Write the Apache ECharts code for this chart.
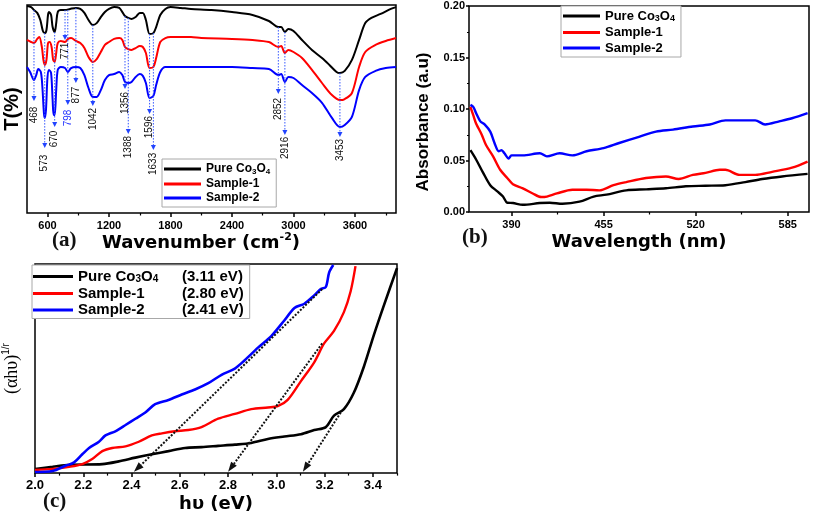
<!DOCTYPE html>
<html><head><meta charset="utf-8">
<script src="https://cdn.jsdelivr.net/npm/echarts@6/dist/echarts.min.js"></script>
<style>html,body{margin:0;padding:0;background:#fff}#c{width:813px;height:516px}</style>
</head><body><div id="c"></div>
<script>
// ================= DATA =================
const seriesNames = ['Pure Co3O4', 'Sample-1', 'Sample-2'];
const bandGaps = ['(3.11 eV)', '(2.80 eV)', '(2.41 eV)'];

// ---- Panel (a): FTIR, wavenumber (cm-1) vs T (%) (curves offset) ----
const ftirBlackWn = [400,440,468,500,530,555,573,590,605,615,635,650,670,685,700,730,771,820,877,920,960,1000,1042,1080,1120,1160,1200,1250,1300,1330,1356,1388,1420,1460,1500,1530,1560,1596,1633,1660,1700,1750,1800,1900,2000,2200,2400,2600,2760,2852,2880,2916,2950,3000,3083,3180,3278,3350,3420,3453,3500,3570,3640,3700,3760,3850,3950,4000];
const ftirBlackT  = [99.5,99.0,97.6,96.2,92.8,87.5,86.5,88.0,95.2,96.6,95.2,89.4,87.0,91.3,96.6,97.6,97.6,98.1,98.6,98.1,96.2,92.8,90.4,91.3,94.2,96.6,98.1,99.0,98.6,96.6,94.7,93.8,93.3,94.2,96.2,96.2,92.8,86.1,86.5,89.4,95.2,98.1,99.0,98.6,98.1,97.6,96.6,95.2,92.3,89.4,89.4,87.0,88.5,87.5,83.2,78.4,74.5,71.2,67.8,67.3,68.3,73.6,83.2,91.3,93.8,95.7,98.1,99.0];
const ftirRedWn = [400,440,468,500,520,545,560,573,590,605,620,640,655,670,685,700,730,771,800,830,877,920,960,1000,1042,1080,1120,1160,1200,1250,1300,1330,1356,1388,1420,1460,1500,1530,1560,1596,1633,1660,1700,1750,1800,2000,2100,2400,2600,2760,2852,2880,2916,2950,3000,3083,3180,3278,3375,3453,3500,3570,3640,3700,3800,3900,4000];
const ftirRedT  = [83.2,82.2,81.7,83.7,84.6,79.8,73.6,71.2,73.6,81.7,82.2,79.8,73.6,72.6,76.9,81.7,82.7,82.2,83.7,84.1,82.7,81.7,79.3,75.0,72.6,74.0,77.4,80.8,82.2,83.7,84.1,83.2,79.8,78.8,78.4,79.3,80.3,79.8,76.9,69.7,70.2,74.5,82.2,84.1,84.6,84.6,84.1,83.7,83.2,82.2,79.8,80.3,76.9,78.4,77.4,74.5,68.8,62.5,56.7,54.3,54.8,57.7,70.2,77.4,80.8,82.7,84.1];
const ftirBlueWn = [400,430,468,490,510,535,550,565,573,585,600,615,635,650,660,670,685,700,730,771,798,830,877,920,960,1000,1042,1080,1120,1160,1200,1250,1300,1330,1356,1388,1420,1460,1500,1530,1560,1596,1633,1660,1700,1750,1800,2000,2400,2600,2760,2852,2880,2916,2950,3000,3083,3180,3278,3375,3453,3500,3570,3640,3700,3800,3900,4000];
const ftirBlueT  = [70.2,67.8,63.9,66.3,69.2,67.8,60.6,48.1,45.7,49.5,65.4,68.8,67.3,54.3,47.1,47.1,59.1,68.8,70.2,69.7,67.8,69.7,70.2,69.7,66.3,60.1,55.8,55.8,59.1,63.9,66.3,66.8,67.8,66.3,63.0,62.5,63.0,65.4,66.8,65.9,62.5,55.3,56.3,61.5,67.8,70.2,70.2,70.2,70.2,69.7,69.2,66.3,66.8,63.0,65.4,64.9,61.5,57.7,53.0,45.7,41.3,42.3,46.2,59.1,65.4,68.3,69.7,70.2];
const ftirTickLabels = [600,1200,1800,2400,3000,3600];
const ftirMinorTicks = [900,1500,2100,2700,3300,3900];

// Peak annotations (labels, wavenumber position, arrow start / tip / label centre in T units)
const peakLabels  = ['468','573','670','771','798','877','1042','1356','1388','1596','1633','2852','2916','3453'];
const peakPos     = [468,573,670,771,798,877,1042,1356,1388,1596,1633,2852,2916,3453];
const peakStart   = [97.6,86.5,87.0,97.6,97.6,98.6,90.4,94.7,93.8,86.1,86.5,89.4,87.0,67.3];
const peakTip     = [53.8,31.3,41.3,83.2,51.9,62.5,51.4,59.6,38.0,47.6,30.3,57.2,37.5,36.5];
const peakLabelAt = [47.1,24.0,35.6,77.9,45.7,56.7,45.2,52.9,31.7,41.3,23.6,50.0,31.3,30.3];
const peakColors  = ['#111','#111','#111','#111','#2233ff','#111','#111','#111','#111','#111','#111','#111','#111','#111'];

// ---- Panel (b): UV-Vis absorbance ----
const uvBlackNm  = [361,365,370,375,380,384,387,391,398,410,417,426,438,448,457,471,485,499,513,527,541,555,567,581,599];
const uvBlackAbs = [0.060,0.051,0.038,0.026,0.020,0.015,0.009,0.0087,0.007,0.0087,0.009,0.008,0.010,0.015,0.0168,0.021,0.022,0.023,0.025,0.0255,0.026,0.029,0.032,0.0345,0.037];
const uvRedNm  = [361,363,365,369,372,377,382,387,391,398,405,411,415,422,433,443,452,462,471,485,499,508,518,527,537,541,551,562,574,588,599];
const uvRedAbs = [0.102,0.094,0.086,0.075,0.065,0.054,0.041,0.033,0.027,0.023,0.018,0.0145,0.015,0.018,0.0216,0.0216,0.021,0.026,0.029,0.033,0.0345,0.032,0.036,0.038,0.041,0.041,0.036,0.036,0.039,0.043,0.049];
const uvBlueNm  = [361,363,365,368,371,375,378,381,383,385,388,390,398,410,415,424,433,443,455,466,480,492,504,518,530,541,551,562,569,579,588,599];
const uvBlueAbs = [0.104,0.102,0.096,0.088,0.085,0.078,0.067,0.059,0.060,0.057,0.052,0.055,0.055,0.057,0.054,0.057,0.055,0.059,0.062,0.067,0.073,0.078,0.080,0.083,0.085,0.089,0.089,0.089,0.085,0.088,0.091,0.096];
const uvTickLabels = [390,455,520,585];
const uvMinorTicks = [422.5,487.5,552.5];

// ---- Panel (c): Tauc plot ----
const taucBlackE = [2.0,2.073,2.141,2.279,2.347,2.416,2.484,2.553,2.622,2.69,2.759,2.828,2.896,2.965,3.033,3.102,3.157,3.205,3.239,3.28,3.321,3.363,3.404,3.445,3.5];
const taucBlackV = [2,3,4,4.3,5.6,7.4,9,10.5,12,12.4,13,13.6,14.4,16.3,17.5,18.6,20.6,22,27.5,30.6,38.4,51,66,80,98];
const taucRedE = [2.0,2.073,2.141,2.196,2.237,2.279,2.32,2.375,2.43,2.484,2.526,2.58,2.635,2.69,2.759,2.828,2.896,2.965,3.006,3.047,3.102,3.157,3.198,3.239,3.28,3.308,3.328];
const taucRedV = [1.5,2,3,4.3,6.7,10.5,12,12.8,15,18,19,20,20.6,22,26,28.3,30.6,31.4,32,35,44,53,62,68,77,87,99];
const taucBlueE = [2.0,2.073,2.128,2.162,2.196,2.224,2.265,2.292,2.333,2.375,2.416,2.457,2.498,2.553,2.608,2.663,2.718,2.773,2.828,2.869,2.924,2.979,3.033,3.075,3.116,3.157,3.184,3.205,3.219,3.236];
const taucBlueV = [0.5,1,3.6,5.1,9,12,15,18,20,23,26,29,33,35,37.6,40,43,47,50,54,60,65.5,73,79,81,85,88,89,96,99.5];
const taucTickLabels = [2.0,2.2,2.4,2.6,2.8,3.0,3.2,3.4];
const taucMinorTicks = [2.1,2.3,2.5,2.7,2.9,3.1,3.3,3.5];
// Linear-extrapolation arrows (start -> tip at band gap)
const fitStartX = [3.19, 3.19, 3.267];
const fitStartY = [88, 62, 29];
const fitEndX   = [2.41, 2.80, 3.11];
const fitEndY   = [0.6, 0.6, 0.6];

// ================= CHART =================
const colors = ['#000000', '#ff0000', '#0000ff'];
const zip = (a, b) => a.map((v, i) => [v, b[i]]);
const SANS = '"Liberation Sans", Arial, sans-serif';
const DJ = '"DejaVu Sans", sans-serif';

const mctx = document.createElement('canvas').getContext('2d');
function tw(t, size) { mctx.font = 'bold ' + size + 'px ' + SANS; return mctx.measureText(t).width; }

function coRich(n) {
  return n === 'Pure Co3O4' ? '{t|Pure Co}{s|3}{t|O}{s|4}' : '{t|' + n + '}';
}
function legendRich(size, lh, sub) {
  return {
    t: {fontFamily: SANS, fontWeight: 'bold', fontSize: size, lineHeight: lh, color: '#000'},
    s: {fontFamily: SANS, fontWeight: 'bold', fontSize: sub, lineHeight: sub, verticalAlign: 'bottom', color: '#000'}
  };
}
const cNameW = seriesNames.map(n => n === 'Pure Co3O4' ? tw('Pure Co', 15) + tw('O', 15) + 2 * tw('3', 10) : tw(n, 15));
const cRich = legendRich(15, 16, 10);
cNameW.forEach((w, i) => { cRich['g' + i] = {width: Math.max(2, 104 - w), fontSize: 15, lineHeight: 16}; });
cRich.e = {fontFamily: SANS, fontWeight: 'bold', fontSize: 15, lineHeight: 16, color: '#000'};

const tickLbl = (size) => ({fontFamily: SANS, fontWeight: 'bold', fontSize: size, color: '#000'});
const border = {show: true, borderColor: '#000', borderWidth: 1.5, backgroundColor: 'transparent'};

function lineSeries(name, data, xi, yi, color, w) {
  return {name, type: 'line', xAxisIndex: xi, yAxisIndex: yi, data, symbol: 'none', smooth: 0.3,
    lineStyle: {color, width: w}, itemStyle: {color}, z: 3};
}

function renderPeak(params, api) {
  const i = params.dataIndex;
  const p0 = api.coord([peakPos[i], peakStart[i]]);
  const p1 = api.coord([peakPos[i], peakTip[i]]);
  const pl = api.coord([peakPos[i], peakLabelAt[i]]);
  const x = p0[0];
  return {type: 'group', children: [
    {type: 'line', shape: {x1: x, y1: p0[1], x2: x, y2: p1[1] - 4}, style: {stroke: '#3355ff', lineWidth: 1, lineDash: [1.5, 1.5]}},
    {type: 'polygon', shape: {points: [[x - 2.5, p1[1] - 5], [x + 2.5, p1[1] - 5], [x, p1[1]]]}, style: {fill: '#2244ff'}},
    {type: 'text', x: x, y: pl[1], rotation: Math.PI / 2,
      style: {text: peakLabels[i], fill: peakColors[i], font: '10px ' + SANS, align: 'center', verticalAlign: 'middle'}}
  ]};
}

function renderFit(params, api) {
  const i = params.dataIndex;
  const p1 = api.coord([fitStartX[i], fitStartY[i]]);
  const p2 = api.coord([fitEndX[i], fitEndY[i]]);
  const dx = p2[0] - p1[0], dy = p2[1] - p1[1], L = Math.hypot(dx, dy);
  const ux = dx / L, uy = dy / L, al = 10, aw = 7;
  const bx = p2[0] - ux * al, by = p2[1] - uy * al;
  return {type: 'group', children: [
    {type: 'line', shape: {x1: p1[0], y1: p1[1], x2: bx, y2: by}, style: {stroke: '#111', lineWidth: 2, lineDash: [2, 1.6]}},
    {type: 'polygon', shape: {points: [[p2[0], p2[1]], [bx - uy * aw / 2, by + ux * aw / 2], [bx + uy * aw / 2, by - ux * aw / 2]]}, style: {fill: '#111'}}
  ]};
}

const hidden = {axisLine: {show: false}, axisTick: {show: false}, axisLabel: {show: false}, splitLine: {show: false}};
const plain = v => String(v);

const option = {
  animation: false,
  backgroundColor: '#fff',
  grid: [
    Object.assign({left: 25, top: 5, width: 371, height: 208}, border),
    Object.assign({left: 469, top: 6, width: 340, height: 206}, border),
    Object.assign({left: 32, top: 264, width: 365, height: 215}, border)
  ],
  xAxis: [
    {gridIndex: 0, type: 'value', min: 400, max: 4000, position: 'bottom',
      axisLine: {show: false}, splitLine: {show: false},
      axisTick: {show: true, customValues: ftirTickLabels, length: 4, lineStyle: {color: '#000', width: 1.5}},
      axisLabel: Object.assign({customValues: ftirTickLabels, margin: 7, formatter: plain}, tickLbl(11)),
      name: 'Wavenumber (cm{sup|-2})', nameLocation: 'middle', nameGap: 16,
      nameTextStyle: {fontFamily: DJ, fontWeight: 'bold', fontSize: 18, lineHeight: 22, color: '#000', padding: [0, 21, 0, 0],
        rich: {sup: {fontFamily: DJ, fontWeight: 'bold', fontSize: 11, lineHeight: 11, verticalAlign: 'top', color: '#000'}}}},
    {gridIndex: 0, type: 'value', min: 400, max: 4000, position: 'bottom', offset: 0,
      axisLine: {show: false}, splitLine: {show: false}, axisLabel: {show: false},
      axisTick: {show: true, customValues: ftirMinorTicks, length: 2.5, lineStyle: {color: '#000', width: 1.2}}},
    {gridIndex: 1, type: 'value', min: 360, max: 600, position: 'bottom',
      axisLine: {show: false}, splitLine: {show: false},
      axisTick: {show: true, customValues: uvTickLabels, length: 4, lineStyle: {color: '#000', width: 1.5}},
      axisLabel: Object.assign({customValues: uvTickLabels, margin: 7, formatter: plain}, tickLbl(11)),
      name: 'Wavelength (nm)', nameLocation: 'middle', nameGap: 17,
      nameTextStyle: {fontFamily: DJ, fontWeight: 'bold', fontSize: 18, lineHeight: 22, color: '#000'}},
    {gridIndex: 1, type: 'value', min: 360, max: 600, position: 'bottom', offset: 0,
      axisLine: {show: false}, splitLine: {show: false}, axisLabel: {show: false},
      axisTick: {show: true, customValues: uvMinorTicks, length: 2.5, lineStyle: {color: '#000', width: 1.2}}},
    {gridIndex: 2, type: 'value', min: 2.0, max: 3.5, position: 'bottom',
      axisLine: {show: false}, splitLine: {show: false},
      axisTick: {show: true, customValues: taucTickLabels, length: 4, lineStyle: {color: '#000', width: 1.5}},
      axisLabel: Object.assign({customValues: taucTickLabels, margin: 6, formatter: v => v.toFixed(1)}, tickLbl(13)),
      name: 'h\u03c5 (eV)', nameLocation: 'middle', nameGap: 14,
      nameTextStyle: {fontFamily: DJ, fontWeight: 'bold', fontSize: 18, lineHeight: 22, color: '#000'}},
    {gridIndex: 2, type: 'value', min: 2.0, max: 3.5, position: 'bottom', offset: 0,
      axisLine: {show: false}, splitLine: {show: false}, axisLabel: {show: false},
      axisTick: {show: true, customValues: taucMinorTicks, length: 2.5, lineStyle: {color: '#000', width: 1.2}}}
  ],
  yAxis: [
    Object.assign({gridIndex: 0, type: 'value', min: 0, max: 100,
      name: 'T(%)', nameLocation: 'middle', nameGap: 4,
      nameTextStyle: {fontFamily: SANS, fontWeight: 'bold', fontSize: 20, lineHeight: 22, color: '#000'}}, hidden),
    {gridIndex: 1, type: 'value', min: 0, max: 0.2, interval: 0.05,
      axisLine: {show: false}, splitLine: {show: false},
      axisTick: {show: true, length: 3, lineStyle: {color: '#000', width: 1.5}},
      minorTick: {show: true, splitNumber: 2, length: 2, lineStyle: {color: '#000', width: 1.2}},
      axisLabel: Object.assign({margin: 4, formatter: v => v.toFixed(2)}, tickLbl(11)),
      name: 'Absorbance (a.u)', nameLocation: 'middle', nameGap: 36,
      nameTextStyle: {fontFamily: SANS, fontWeight: 'bold', fontSize: 17, lineHeight: 19, color: '#000', padding: [0, 26, 0, 0]}},
    Object.assign({gridIndex: 2, type: 'value', min: 0, max: 100,
      name: '{p|(\u03b1h\u03c5)}{sup|1/r}', nameLocation: 'middle', nameGap: 12,
      nameTextStyle: {color: '#000', rich: {
        p: {fontFamily: '"Liberation Serif", serif', fontSize: 18, lineHeight: 22, color: '#000'},
        sup: {fontFamily: SANS, fontSize: 10, lineHeight: 10, verticalAlign: 'top', color: '#000'}}}}, hidden)
  ],
  legend: [
    {left: 162, top: 159, orient: 'vertical', data: seriesNames, icon: 'rect', itemWidth: 37, itemHeight: 3,
      itemGap: 2, padding: [4, 6, 3, 2], borderColor: '#a8a8a8', borderWidth: 1, backgroundColor: '#fff',
      selectedMode: false, formatter: coRich, textStyle: {rich: legendRich(12, 14, 8)}},
    {left: 561, top: 6, orient: 'vertical', data: seriesNames, icon: 'rect', itemWidth: 37, itemHeight: 3,
      itemGap: 2.5, padding: [3.5, 6, 2.5, 2], borderColor: '#a8a8a8', borderWidth: 1, backgroundColor: '#fff',
      selectedMode: false, formatter: coRich, textStyle: {rich: legendRich(13, 15, 9)}},
    {left: 32, top: 265, orient: 'vertical', data: seriesNames, icon: 'rect', itemWidth: 40, itemHeight: 3,
      itemGap: 1.5, padding: [4, 6, 1, 1], borderColor: '#a8a8a8', borderWidth: 1, backgroundColor: '#fff',
      selectedMode: false,
      formatter: n => { const i = seriesNames.indexOf(n); return coRich(n) + '{g' + i + '| }{e|' + bandGaps[i] + '}'; },
      textStyle: {rich: cRich}}
  ],
  graphic: [
    {type: 'text', left: 52, top: 230, style: {text: '(a)', font: 'bold 21px "Liberation Serif", serif', fill: '#111'}},
    {type: 'text', left: 462, top: 227, style: {text: '(b)', font: 'bold 21px "Liberation Serif", serif', fill: '#111'}},
    {type: 'text', left: 43, top: 491, style: {text: '(c)', font: 'bold 21px "Liberation Serif", serif', fill: '#111'}}
  ],
  series: [
    lineSeries(seriesNames[0], zip(ftirBlackWn, ftirBlackT), 0, 0, colors[0], 2),
    lineSeries(seriesNames[1], zip(ftirRedWn, ftirRedT), 0, 0, colors[1], 2),
    lineSeries(seriesNames[2], zip(ftirBlueWn, ftirBlueT), 0, 0, colors[2], 2),
    {type: 'custom', xAxisIndex: 0, yAxisIndex: 0, silent: true, z: 4, renderItem: renderPeak,
      data: peakPos.map((p, i) => [p, peakStart[i]])},
    lineSeries(seriesNames[0], zip(uvBlackNm, uvBlackAbs), 2, 1, colors[0], 2.4),
    lineSeries(seriesNames[1], zip(uvRedNm, uvRedAbs), 2, 1, colors[1], 2.4),
    lineSeries(seriesNames[2], zip(uvBlueNm, uvBlueAbs), 2, 1, colors[2], 2.4),
    lineSeries(seriesNames[0], zip(taucBlackE, taucBlackV), 4, 2, colors[0], 2.6),
    lineSeries(seriesNames[1], zip(taucRedE, taucRedV), 4, 2, colors[1], 2.4),
    lineSeries(seriesNames[2], zip(taucBlueE, taucBlueV), 4, 2, colors[2], 2.6),
    {type: 'custom', xAxisIndex: 4, yAxisIndex: 2, silent: true, z: 5, renderItem: renderFit,
      data: fitStartX.map((x, i) => [x, fitStartY[i]])}
  ]
};

const chart = echarts.init(document.getElementById('c'), null, {renderer: 'canvas'});
chart.setOption(option);
</script>
</body></html>
